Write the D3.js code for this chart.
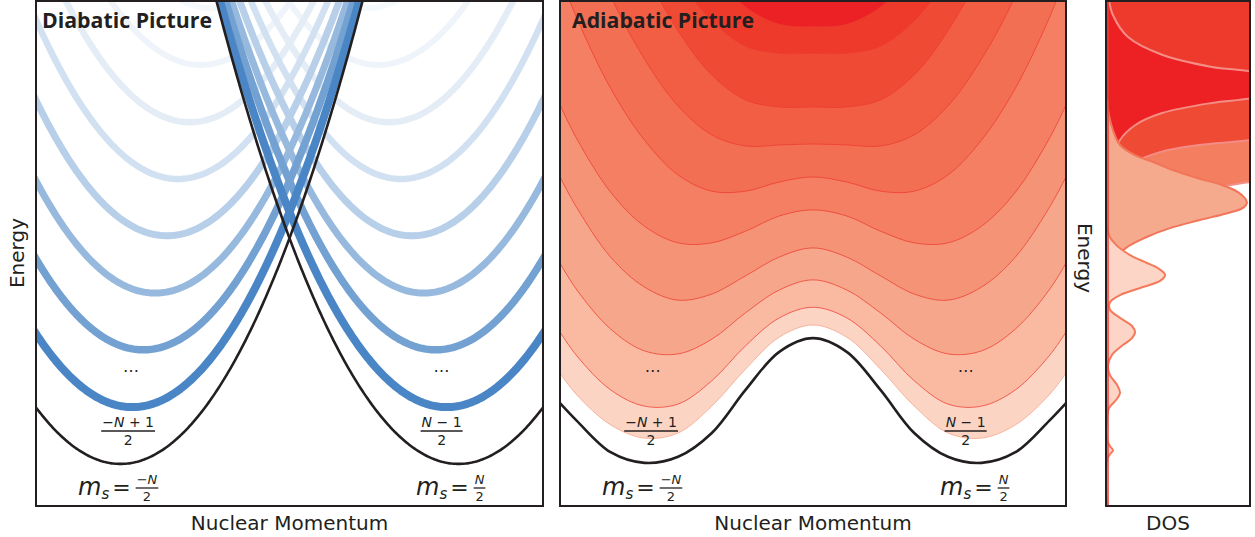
<!DOCTYPE html>
<html>
<head>
<meta charset="utf-8">
<script src="https://cdn.jsdelivr.net/npm/d3@7"></script>
<style>
  body { margin: 0; background: #fff; }
</style>
</head>
<body>
<div id="chart"></div>
<script>
// ---- data ----
// diabatic parabolas: level k, centre (momentum) of the left family, minimum energy
const levels = [0, 1, 2, 3, 4, 5, 6, 7, 8];
const leftCentres = [-2.0, -1.86, -1.73, -1.59, -1.45, -1.32, -1.18, -1.05, -0.91];
const levelMinima = [0.85, 1.97, 3.10, 4.22, 5.35, 6.47, 7.59, 8.72, 9.84];
const curvature = 1.113;
const levelTint = [1, 1, 0.78, 0.58, 0.40, 0.25, 0.15, 0.09, 0.05];
const levelWidth = [2.6, 8, 7.5, 7, 7, 6.5, 6.5, 6, 6];

// adiabatic curves, sampled at |p| (mirrored for p < 0)
const adiaP = [0, 0.4, 0.8, 1.2, 1.6, 2.0, 2.4, 2.8, 3.0];
const adia0 = [3.33, 3.06, 2.31, 1.46, 0.99, 0.87, 1.08, 1.70, 2.05];
const adia1 = [3.59, 3.35, 2.72, 1.99, 1.46, 1.36, 1.62, 2.21, 2.64];
const adia2 = [3.94, 3.73, 3.18, 2.49, 2.03, 1.99, 2.31, 2.98, 3.45];
const adia3 = [4.48, 4.28, 3.83, 3.31, 3.02, 3.08, 3.51, 4.28, 4.81];
const adia4 = [5.11, 4.93, 4.56, 4.20, 4.08, 4.34, 4.93, 5.90, 6.51];
const adia5 = [5.86, 5.74, 5.44, 5.21, 5.21, 5.54, 6.21, 7.26, 7.93];
const adia6 = [6.51, 6.41, 6.23, 6.23, 6.55, 7.24, 8.26, 9.64, 10.49];
const adia7 = [7.16, 7.14, 7.12, 7.34, 7.91, 8.84, 10.08, 11.74, 12.68];
const adia8 = [7.89, 7.89, 8.03, 8.52, 9.39, 10.59, 12.13, 14.06, 15.15];
const adia9 = [8.95, 8.95, 9.09, 9.59, 10.45, 11.66, 13.20, 15.13, 16.21];
const adia10 = [9.47, 9.52, 9.86, 10.57, 11.58, 12.86, 14.44, 16.31, 17.40];
const adiaCurves = [adia0, adia1, adia2, adia3, adia4, adia5, adia6, adia7, adia8, adia9, adia10];
const bandColors = ["#fcd4c4", "#f9baa1", "#f6a68a", "#f59377", "#f47f62",
                    "#f36f53", "#f15e43", "#ef4a34", "#ed3a2b", "#ec2125"];

// density of states curves (energy, density)
const dosTopE = [10.4, 10, 8.82, 8.42, 8.03, 7.63, 7.04];
const dosTopD = [1.4, 1.4, 1.35, 1.0, 0.37, 0.09, 0];
const dosRedE = [10.4, 10.0, 9.70, 9.27, 8.92, 8.68, 8.58, 8.32, 8.07, 7.97, 7.77, 7.53, 7.24, 6.84, 6.45, 6.0];
const dosRedD = [0.01, 0.014, 0.042, 0.147, 0.385, 0.734, 1.03, 1.35, 1.03, 0.734, 0.385, 0.196, 0.091, 0.035, 0.007, 0];
const dosOrangeE = [8.82, 8.42, 8.13, 7.44, 7.24, 7.14, 7.0, 6.75, 6.35, 5.86];
const dosOrangeD = [0.02, 0.65, 1.35, 1.35, 1.0, 0.65, 0.37, 0.16, 0.035, 0];
const dosCoralE = [7.83, 7.53, 7.34, 6.49, 6.41, 6.33, 6.21, 6.06, 5.76, 5.36, 4.97];
const dosCoralD = [0, 0.65, 1.35, 1.35, 1.0, 0.83, 0.58, 0.37, 0.16, 0.035, 0];
const dosSalmonE = [8.03, 7.73, 7.43, 7.14, 6.94, 6.79, 6.65, 6.49, 6.35, 6.21, 6.09, 6.0,
                    5.90, 5.80, 5.66, 5.50, 5.31, 5.11, 4.87, 4.58, 4.14];
const dosSalmonD = [0, 0.014, 0.042, 0.091, 0.196, 0.336, 0.455, 0.63, 0.804, 0.916, 0.965, 0.979,
                    0.951, 0.846, 0.65, 0.44, 0.266, 0.133, 0.049, 0.007, 0];
const dosPinkE = [5.56, 5.36, 5.17, 4.97, 4.83, 4.71, 4.58, 4.46, 4.32, 4.18, 4.04, 3.89, 3.73,
                  3.57, 3.45, 3.33, 3.18, 3.0, 2.80, 2.60, 2.41, 2.25, 2.11, 1.95, 1.72,
                  1.32, 1.20, 1.12, 1.04, 0.93, 0];
const dosPinkD = [0, 0.014, 0.063, 0.161, 0.266, 0.357, 0.406, 0.371, 0.231, 0.091, 0.021, 0.021, 0.091,
                  0.175, 0.196, 0.175, 0.105, 0.035, 0.007, 0.021, 0.070, 0.091, 0.063, 0.014, 0,
                  0, 0.021, 0.042, 0.021, 0, 0];

const ink = "#231f20";
const blue = "#4a86c5";

const svg = d3.select("#chart").append("svg")
    .attr("width", 1255)
    .attr("height", 537);

const y = d3.scaleLinear().domain([0, 10]).range([507, 0]);
const xDia = d3.scaleLinear().domain([-3, 3]).range([36, 543]);
const xAdi = d3.scaleLinear().domain([-3, 3]).range([560, 1066]);
const xDos = d3.scaleLinear().domain([0, 1]).range([1107, 1250]);

const defs = svg.append("defs");
function clip(id, x0, x1) {
  defs.append("clipPath").attr("id", id)
    .append("rect").attr("x", x0).attr("y", 0).attr("width", x1 - x0).attr("height", 507);
}
clip("clipDia", 36, 543);
clip("clipAdi", 560, 1066);
clip("clipDos", 1107, 1250);

// ---------- diabatic panel ----------
const gDia = svg.append("g").attr("clip-path", "url(#clipDia)");
const pGrid = d3.range(-3.2, 3.2001, 0.02);
const diaLine = d3.line().x(d => xDia(d[0])).y(d => y(d[1]));

levels.slice().reverse().forEach(k => {
  [-1, 1].forEach(side => {
    const centre = side < 0 ? leftCentres[k] : -leftCentres[k];
    const pts = pGrid.map(p => [p, levelMinima[k] + curvature * (p - centre) ** 2]);
    gDia.append("path")
      .datum(pts)
      .attr("d", diaLine)
      .attr("fill", "none")
      .attr("stroke", k === 0 ? ink : d3.interpolateRgb("#ffffff", blue)(levelTint[k]))
      .attr("stroke-width", levelWidth[k]);
  });
});

// ---------- adiabatic panel ----------
const gAdi = svg.append("g").attr("clip-path", "url(#clipAdi)");
function mirror(vals) {
  const pts = [];
  for (let i = adiaP.length - 1; i > 0; i--) pts.push([-adiaP[i], vals[i]]);
  for (let i = 0; i < adiaP.length; i++) pts.push([adiaP[i], vals[i]]);
  return pts;
}
const adiLine = d3.line().x(d => xAdi(d[0])).y(d => y(d[1])).curve(d3.curveCatmullRom.alpha(0.5));
const adiArea = d3.area().x(d => xAdi(d[0])).y1(d => y(d[1])).y0(-20).curve(d3.curveCatmullRom.alpha(0.5));

bandColors.forEach((col, i) => {
  gAdi.append("path")
    .datum(mirror(adiaCurves[i + 1]))
    .attr("d", adiArea)
    .attr("fill", col);
});
adiaCurves.slice(1).forEach((c, i) => {
  gAdi.append("path")
    .datum(mirror(c))
    .attr("d", adiLine)
    .attr("fill", "none")
    .attr("stroke", i === 0 ? "#f7b39c" : "#ee3b30")
    .attr("stroke-opacity", i === 0 ? 1 : 0.75)
    .attr("stroke-width", 1);
});
gAdi.append("path")
  .datum(mirror(adia0))
  .attr("d", adiLine)
  .attr("fill", "none")
  .attr("stroke", ink)
  .attr("stroke-width", 2.6);

// ---------- DOS panel ----------
const gDos = svg.append("g").attr("clip-path", "url(#clipDos)");
const dosArea = d3.area()
    .y(d => y(d[0]))
    .x0(xDos(0))
    .x1(d => xDos(d[1]))
    .curve(d3.curveCatmullRom.alpha(0.5));
const dosLine = d3.line().y(d => y(d[0])).x(d => xDos(d[1])).curve(d3.curveCatmullRom.alpha(0.5));
const dosSets = [
  {E: dosTopE, D: dosTopD, fill: "#ee3a2c", stroke: "#f48d86"},
  {E: dosCoralE, D: dosCoralD, fill: "#f37e60", stroke: "#f48d86"},
  {E: dosOrangeE, D: dosOrangeD, fill: "#ef4a34", stroke: "#f48d86"},
  {E: dosRedE, D: dosRedD, fill: "#ed2024", stroke: "#f48d86"},
  {E: dosSalmonE, D: dosSalmonD, fill: "#f5a98d", stroke: "#f27559"},
  {E: dosPinkE, D: dosPinkD, fill: "#fcd5c6", stroke: "#f47a5c"}
];
dosSets.forEach(s => {
  const pts = s.E.map((e, i) => [e, s.D[i]]);
  gDos.append("path").datum(pts).attr("d", dosArea).attr("fill", s.fill);
  gDos.append("path").datum(pts).attr("d", dosLine)
    .attr("fill", "none").attr("stroke", s.stroke).attr("stroke-width", 2);
});
gDos.append("line")
  .attr("x1", xDos(0) + 1).attr("x2", xDos(0) + 1)
  .attr("y1", y(10)).attr("y2", y(0))
  .attr("stroke", "#ee3b30").attr("stroke-width", 1.5);

// ---------- frames ----------
[[36, 543], [560, 1066], [1106, 1250]].forEach(([a, b]) => {
  svg.append("rect")
    .attr("x", a).attr("y", 1).attr("width", b - a).attr("height", 505)
    .attr("fill", "none").attr("stroke", ink).attr("stroke-width", 2);
});

// ---------- text ----------
const font = "DejaVu Sans";
function title(x, txt, len) {
  svg.append("text")
    .attr("x", x).attr("y", 28)
    .attr("font-family", "Open Sans").attr("font-weight", 700)
    .attr("font-size", 22)
    .attr("textLength", len).attr("lengthAdjust", "spacingAndGlyphs")
    .attr("fill", ink)
    .text(txt);
}
title(42, "Diabatic Picture", 170);
title(572, "Adiabatic Picture", 182);

// stacked fraction; anchor "middle" puts cx at its centre, "start" at its left edge
function fraction(cx, yBar, num, den, size, anchor) {
  const t = svg.append("text")
    .attr("y", yBar - size * 0.3)
    .attr("text-anchor", "middle")
    .attr("font-family", font).attr("font-size", size).attr("fill", ink);
  num.forEach(([s, it]) => t.append("tspan").attr("font-style", it ? "italic" : "normal").text(s));
  const w = t.node().getComputedTextLength();
  const c = anchor === "start" ? cx + w / 2 + 1 : cx;
  t.attr("x", c);
  svg.append("line")
    .attr("x1", c - w / 2 - 1).attr("x2", c + w / 2 + 1)
    .attr("y1", yBar).attr("y2", yBar)
    .attr("stroke", ink).attr("stroke-width", size > 13 ? 1.6 : 1.3);
  svg.append("text")
    .attr("x", c).attr("y", yBar + size * 0.98)
    .attr("text-anchor", "middle")
    .attr("font-family", font).attr("font-size", size).attr("fill", ink)
    .text(den);
}

function msLabel(x0, num) {
  const t = svg.append("text")
    .attr("x", x0).attr("y", 495)
    .attr("font-family", font).attr("font-size", 24).attr("fill", ink);
  t.append("tspan").attr("font-style", "italic").text("m");
  t.append("tspan").attr("font-style", "italic").attr("font-size", 15).attr("dy", 4).text("s");
  t.append("tspan").attr("dy", -4).attr("dx", 3).attr("font-size", 22).text("=");
  const w = t.node().getComputedTextLength();
  fraction(x0 + w + 8, 488, num, "2", 13, "start");
}

function ellipsis(x) {
  svg.append("text")
    .attr("x", x).attr("y", 372)
    .attr("text-anchor", "middle")
    .attr("font-family", font).attr("font-size", 16).attr("fill", ink)
    .text("…");
}

// diabatic labels
ellipsis(xDia(-1.876));
ellipsis(xDia(1.80));
fraction(xDia(-1.91), 431, [["−", false], ["N", true], [" + 1", false]], "2", 14);
fraction(xDia(1.80), 431, [["N", true], [" − 1", false]], "2", 14);
msLabel(78, [["−", false], ["N", true]]);
msLabel(416, [["N", true]]);

// adiabatic labels
ellipsis(xAdi(-1.90));
ellipsis(xAdi(1.81));
fraction(xAdi(-1.92), 431, [["−", false], ["N", true], [" + 1", false]], "2", 14);
fraction(xAdi(1.81), 431, [["N", true], [" − 1", false]], "2", 14);
msLabel(602, [["−", false], ["N", true]]);
msLabel(940, [["N", true]]);

// axis labels
function axisLabel(x, yy, txt, rot) {
  const t = svg.append("text")
    .attr("font-family", font).attr("font-size", 20).attr("fill", ink)
    .attr("text-anchor", "middle")
    .text(txt);
  if (rot) t.attr("transform", `translate(${x},${yy}) rotate(${rot})`);
  else t.attr("x", x).attr("y", yy);
}
axisLabel(xDia(0), 530, "Nuclear Momentum");
axisLabel(xAdi(0), 530, "Nuclear Momentum");
axisLabel(1168, 530, "DOS");
axisLabel(24, 253, "Energy", -90);
axisLabel(1078, 258, "Energy", 90);
</script>
</body>
</html>
